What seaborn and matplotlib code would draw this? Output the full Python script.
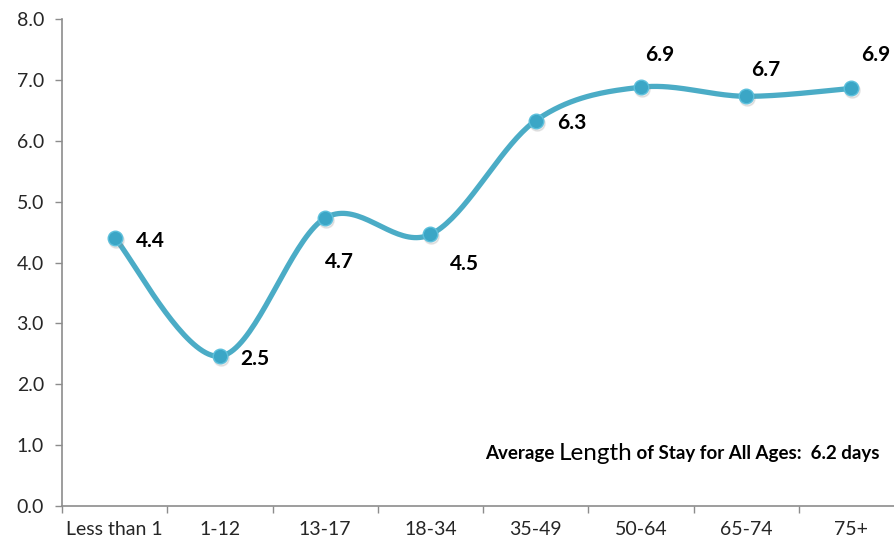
import numpy as np
import pandas as pd
import matplotlib
matplotlib.use('Agg')
import matplotlib.pyplot as plt
import seaborn as sns
from matplotlib.offsetbox import TextArea, HPacker, AnnotationBbox

sns.set_theme(style='white')
plt.rcParams['font.family'] = ['Lato', 'DejaVu Sans']

ages = ['Less than 1', '1-12', '13-17', '18-34', '35-49', '50-64', '65-74', '75+']
stay = [4.41, 2.46, 4.73, 4.46, 6.33, 6.88, 6.73, 6.86]
yticks = [0, 1, 2, 3, 4, 5, 6, 7, 8]
avg_all = 6.2

# label offsets in pixels (dx, dy) relative to each point
offsets = [(21, -3), (20, -3), (0, -44), (20, -30), (22, -2), (4, 32), (5, 26), (10, 33)]

line_col = '#4BACC6'

# excel style smoothed line (catmull-rom bezier)
xs = np.arange(len(stay), dtype=float)
ys = np.array(stay, dtype=float)
P = np.column_stack([xs, ys])
Pe = np.vstack([P[0], P, P[-1]])
t = np.linspace(0, 1, 40)
curve = []
for i in range(len(P) - 1):
    p0, p1, p2, p3 = Pe[i], Pe[i + 1], Pe[i + 2], Pe[i + 3]
    b1 = p1 + (p2 - p0) / 6
    b2 = p2 - (p3 - p1) / 6
    seg = ((1 - t) ** 3)[:, None] * p1 + (3 * (1 - t) ** 2 * t)[:, None] * b1 \
        + (3 * (1 - t) * t ** 2)[:, None] * b2 + (t ** 3)[:, None] * p2
    curve.append(seg)
curve = np.vstack(curve)
smooth = pd.DataFrame({'x': curve[:, 0], 'y': curve[:, 1]})
pts = pd.DataFrame({'x': xs, 'y': ys})

fig = plt.figure(figsize=(8.94, 5.46), dpi=100)
ax = fig.add_axes([62 / 894, 40 / 546, 842 / 894, 487 / 546])

sns.lineplot(data=smooth, x='x', y='y', sort=False, color=line_col, linewidth=3.8, ax=ax)
# soft shadow under markers
ax.plot(xs, ys, 'o', color='#8a8a8a', alpha=0.18, markersize=11,
        transform=ax.transData + matplotlib.transforms.ScaledTranslation(1 / 100, -2 / 100, fig.dpi_scale_trans),
        zorder=3)
sns.scatterplot(data=pts, x='x', y='y', s=110, color='#3BA6C6', edgecolor='#5cc0dc',
                linewidth=1.0, ax=ax, zorder=4)

for i, v in enumerate(stay):
    dx, dy = offsets[i]
    ax.annotate(f'{v:.1f}', (xs[i], v), xytext=(dx, dy), textcoords='offset pixels',
                ha='left', va='center', fontsize=15, fontweight='bold', color='black')

ax.set_xlim(-0.5, len(ages) - 0.5)
ax.set_ylim(0, 8)
ax.set_yticks(yticks)
ax.set_yticklabels([f'{v:.1f}' for v in yticks], fontsize=14)
ax.set_xticks(xs)
ax.set_xticklabels(ages, fontsize=14)
ax.set_xticks(np.arange(-0.5, len(ages), 1), minor=True)
ax.tick_params(axis='x', which='major', length=0, pad=11)
ax.tick_params(axis='x', which='minor', length=5, width=1, color='#8c8c8c', direction='out', bottom=True)
ax.tick_params(axis='y', length=5, width=1, color='#8c8c8c', direction='out', left=True, pad=8)
ax.set_xlabel('')
ax.set_ylabel('')
for s in ['top', 'right']:
    ax.spines[s].set_visible(False)
for s in ['left', 'bottom']:
    ax.spines[s].set_color('#8c8c8c')
    ax.spines[s].set_linewidth(1.2)

parts = [
    TextArea('Average ', textprops=dict(fontsize=13.5, fontweight='bold', color='black')),
    TextArea('Length', textprops=dict(fontsize=17.5, fontweight='normal', color='black')),
    TextArea(f' of Stay for All Ages:  {avg_all:.1f} days', textprops=dict(fontsize=13.5, fontweight='bold', color='black')),
]
box = HPacker(children=parts, align='baseline', pad=0, sep=0)
ab = AnnotationBbox(box, (880 / 894, 1 - 453 / 546), xycoords='figure fraction',
                    box_alignment=(1, 0.5), frameon=False)
fig.add_artist(ab)

fig.savefig('out.png', dpi=100)
